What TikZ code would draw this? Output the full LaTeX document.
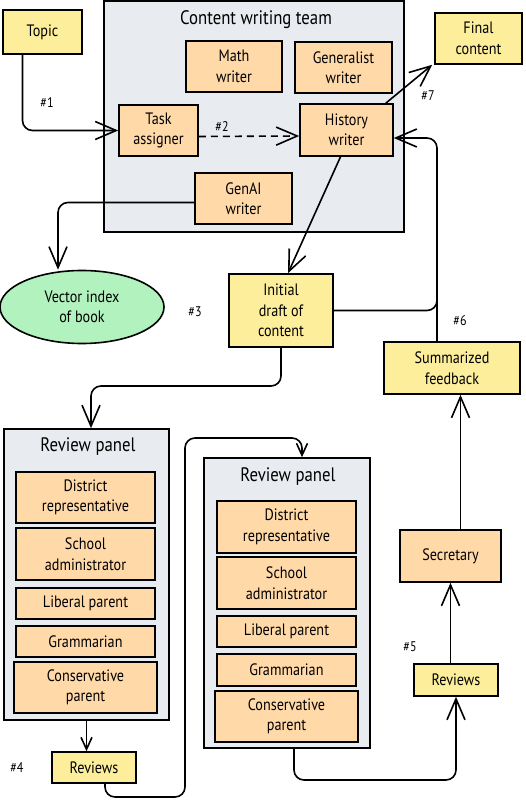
\documentclass[tikz,border=0pt]{standalone}
\usepackage{fontspec}
\setmainfont[FakeStretch=0.86]{PT Sans}
\usepackage{tikz}
\usetikzlibrary{shapes,arrows.meta,calc,positioning}
\definecolor{peach}{HTML}{FFD9A8}
\definecolor{lemon}{HTML}{FDEE9C}
\definecolor{panelgray}{HTML}{E8EBEF}
\definecolor{mint}{HTML}{B2F2BE}

\begin{document}
\begin{tikzpicture}[x=1pt,y=-1pt,line width=1.6pt,
	box/.style={draw,align=center,inner sep=0pt,font=\fontsize{16.5}{20.5}\selectfont},
	yellowbox/.style={box,fill=lemon},
	orangebox/.style={box,fill=peach},
	panel/.style={draw,fill=panelgray,inner sep=0pt},
	paneltitle/.style={font=\fontsize{19.5}{23}\selectfont},
	arr/.style={-{Straight Barb[length=21pt,width=18pt]}},
	smallarr/.style={-{Straight Barb[length=12pt,width=11pt]}},
	hashlbl/.style={font=\fontsize{14}{16}\selectfont}]
	\useasboundingbox (0,0) rectangle (525,800);

	\node[yellowbox,minimum width=79pt,minimum height=44pt] (1) at (42.5,32) {Topic};
	\node[panel,minimum width=300pt,minimum height=231pt] (2) at (254,116.5) {};
	\node[paneltitle] (2t) at (256,20) {Content writing team};
	\node[orangebox,minimum width=96pt,minimum height=51pt] (3) at (234,66.5) {Math\\writer};
	\node[orangebox,minimum width=97pt,minimum height=51pt] (4) at (343.5,67.5) {Generalist\\writer};
	\node[orangebox,minimum width=79pt,minimum height=51pt] (5) at (158.5,130.5) {Task\\assigner};
	\node[orangebox,minimum width=93pt,minimum height=52pt] (6) at (346.5,130) {History\\writer};
	\node[yellowbox,minimum width=87pt,minimum height=51pt] (7) at (478.5,38.5) {Final\\content};
	\node[orangebox,minimum width=97pt,minimum height=51pt] (8) at (243.5,198.5) {GenAI\\writer};
	\node[box,ellipse,fill=mint,minimum width=164pt,minimum height=73pt] (9) at (82,307) {Vector index\\of book};
	\node[yellowbox,minimum width=104pt,minimum height=73pt] (10) at (281,310.5) {Initial\\draft of\\content};
	\node[yellowbox,minimum width=136pt,minimum height=52pt] (11) at (452,368) {Summarized\\feedback};

	\node[panel,minimum width=165pt,minimum height=291pt] (12) at (86.5,574.5) {};
	\node[paneltitle] (12t) at (88,447) {Review panel};
	\node[orangebox,minimum width=139pt,minimum height=51pt] (13) at (85.5,497.5) {District\\representative};
	\node[orangebox,minimum width=139pt,minimum height=52pt] (14) at (85.5,554) {School\\administrator};
	\node[orangebox,minimum width=139pt,minimum height=31pt] (15) at (85.5,603.5) {Liberal parent};
	\node[orangebox,minimum width=139pt,minimum height=31pt] (16) at (85.5,641.5) {Grammarian};
	\node[orangebox,minimum width=143pt,minimum height=51pt] (17) at (85.5,687.5) {Conservative\\parent};
	\node[yellowbox,minimum width=84pt,minimum height=31pt] (18) at (94,767.5) {Reviews};

	\node[panel,minimum width=166pt,minimum height=290pt] (19) at (287,603) {};
	\node[paneltitle] (19t) at (288,477) {Review panel};
	\node[orangebox,minimum width=139pt,minimum height=52pt] (20) at (286.5,527) {District\\representative};
	\node[orangebox,minimum width=139pt,minimum height=52pt] (21) at (286.5,583) {School\\administrator};
	\node[orangebox,minimum width=139pt,minimum height=31pt] (22) at (286.5,631.5) {Liberal parent};
	\node[orangebox,minimum width=139pt,minimum height=32pt] (23) at (286.5,670) {Grammarian};
	\node[orangebox,minimum width=143pt,minimum height=51pt] (24) at (286.5,716.5) {Conservative\\parent};
	\node[orangebox,minimum width=101pt,minimum height=52pt] (25) at (450.5,556) {Secretary};
	\node[yellowbox,minimum width=84pt,minimum height=32pt] (26) at (456,680) {Reviews};

	\node[hashlbl] (h1) at (47,103) {\#1};
	\node[hashlbl] (h2) at (222,127) {\#2};
	\node[hashlbl] (h3) at (195,312) {\#3};
	\node[hashlbl] (h4) at (17,768) {\#4};
	\node[hashlbl] (h5) at (410,647) {\#5};
	\node[hashlbl] (h6) at (460,321) {\#6};
	\node[hashlbl] (h7) at (428,96) {\#7};

	\coordinate (27) at (437,138);
	\coordinate (28) at (91,386);
	\coordinate (29) at (185,797);
	\coordinate (30) at (302,438);
	\coordinate (31) at (456,780);

	\draw[arr,rounded corners=10pt] ([xshift=-20pt]1.south) |- (5.west);
	\draw[arr,dashed,dash pattern=on 7pt off 5pt] ([yshift=-6pt]5.east) -- ([yshift=-6pt]6.west);
	\draw[arr] ([xshift=-8pt]6.north east) -- ([xshift=-2pt]7.south west);
	\draw[arr,rounded corners=10pt] ([yshift=-4pt]8.west) -| ([xshift=-24pt]9.north);
	\draw[arr] ([xshift=-6pt]6.south) -- ([xshift=7pt]10.north);
	\draw[arr,rounded corners=10pt] (10.east) -| (27) -- (6.east |- 27);
	\draw (11.north -| 27) -- (27 |- 10.north);
	\draw[arr,rounded corners=10pt] (10.south) |- (28) -- (28 |- 12.north);
	\draw[smallarr] (12.south) -- (12.south |- 18.north);
	\draw[smallarr,rounded corners=10pt] ([xshift=11pt]18.south) |- (29) |- (30) -- (30 |- 19.north);
	\draw[arr,rounded corners=10pt] ([xshift=7pt]19.south) |- (31) -- (31 |- 26.south);
	\draw[arr] (26.north -| 25.south) -- (25.south);
	\draw[arr] ([xshift=10pt]25.north) -- ([xshift=10pt]25.north |- 11.south);
\end{tikzpicture}
\end{document}
